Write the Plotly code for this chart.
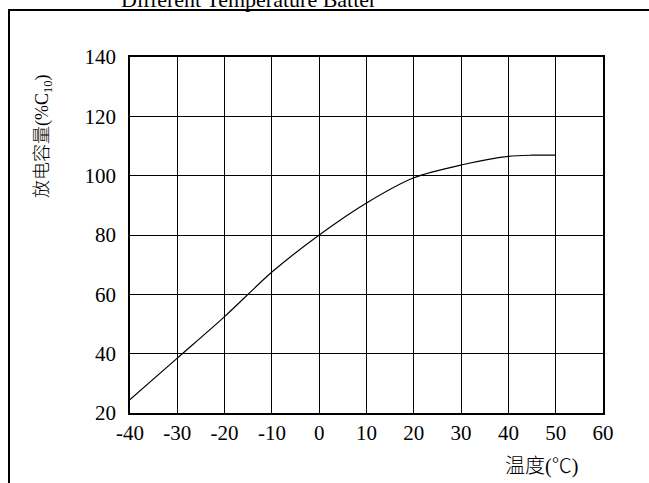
import plotly.graph_objects as go

temps = [-40, -30, -20, -10, 0, 10, 20, 30, 40, 45, 50]
capacity = [24.5, 38.5, 52.5, 67.5, 80, 90.8, 99.3, 103.6, 106.5, 106.9, 106.9]

x_ticks = [-40, -30, -20, -10, 0, 10, 20, 30, 40, 50, 60]
x_tick_labels = ["-40", "-30", "-20", "-10", "0", "10", "20", "30", "40", "50", "60"]
y_ticks = [20, 40, 60, 80, 100, 120, 140]
y_tick_labels = ["20", "40", "60", "80", "100", "120", "140"]

title_text = "Different Temperature Batter"
y_title = "放电容量(%C<sub>10</sub>)"
x_title = "温度(℃)"

W, H = 649, 483
L, R, T, B = 130, 46, 57, 70
pw, ph = W - L - R, H - T - B

def px(x):
    return (x - L) / pw

def py(y):
    return (H - B - y) / ph

serif = "Liberation Serif"
cjk = "Liberation Serif, Noto Sans CJK SC"

fig = go.Figure()
fig.add_trace(go.Scatter(x=temps, y=capacity, mode="lines",
                         line=dict(color="black", width=1.2, shape="spline", smoothing=0.8),
                         showlegend=False, hoverinfo="skip"))

fig.update_layout(
    width=W, height=H,
    margin=dict(l=L, r=R, t=T, b=B),
    paper_bgcolor="white", plot_bgcolor="white",
    font=dict(family=serif, color="black", size=21),
    xaxis=dict(range=[-40, 60], tickvals=x_ticks, ticktext=x_tick_labels, showgrid=True,
               gridcolor="black", gridwidth=1, showline=True, linecolor="black", linewidth=1.5,
               mirror=True, zeroline=False, ticks="", ticklabelstandoff=0, fixedrange=True),
    yaxis=dict(range=[20, 140], tickvals=y_ticks, ticktext=y_tick_labels, showgrid=True,
               gridcolor="black", gridwidth=1, showline=True, linecolor="black", linewidth=1.5,
               mirror=True, zeroline=False, ticks="", ticklabelstandoff=8, fixedrange=True),
    shapes=[
        dict(type="line", xref="paper", yref="paper", x0=px(9), x1=px(9), y0=py(10), y1=py(H + 5),
             line=dict(color="black", width=2)),
        dict(type="line", xref="paper", yref="paper", x0=px(8), x1=px(W + 5), y0=py(10), y1=py(10),
             line=dict(color="black", width=2)),
    ],
    annotations=[
        dict(text=title_text, xref="paper", yref="paper", x=px(249), y=py(14),
             xanchor="center", yanchor="bottom", showarrow=False,
             font=dict(size=22, family=serif)),
        dict(text=y_title, xref="paper", yref="paper", x=px(43), y=py(136),
             xanchor="center", yanchor="middle", textangle=-90, showarrow=False,
             font=dict(size=18, family=cjk, weight=300)),
        dict(text=x_title, xref="paper", yref="paper", x=px(541), y=py(466),
             xanchor="center", yanchor="middle", showarrow=False,
             font=dict(size=20, family=cjk, weight=300)),
    ],
)

fig.write_html("out.html", config={"displayModeBar": False},
               post_script="document.body.style.margin='0';document.body.style.padding='0';")
